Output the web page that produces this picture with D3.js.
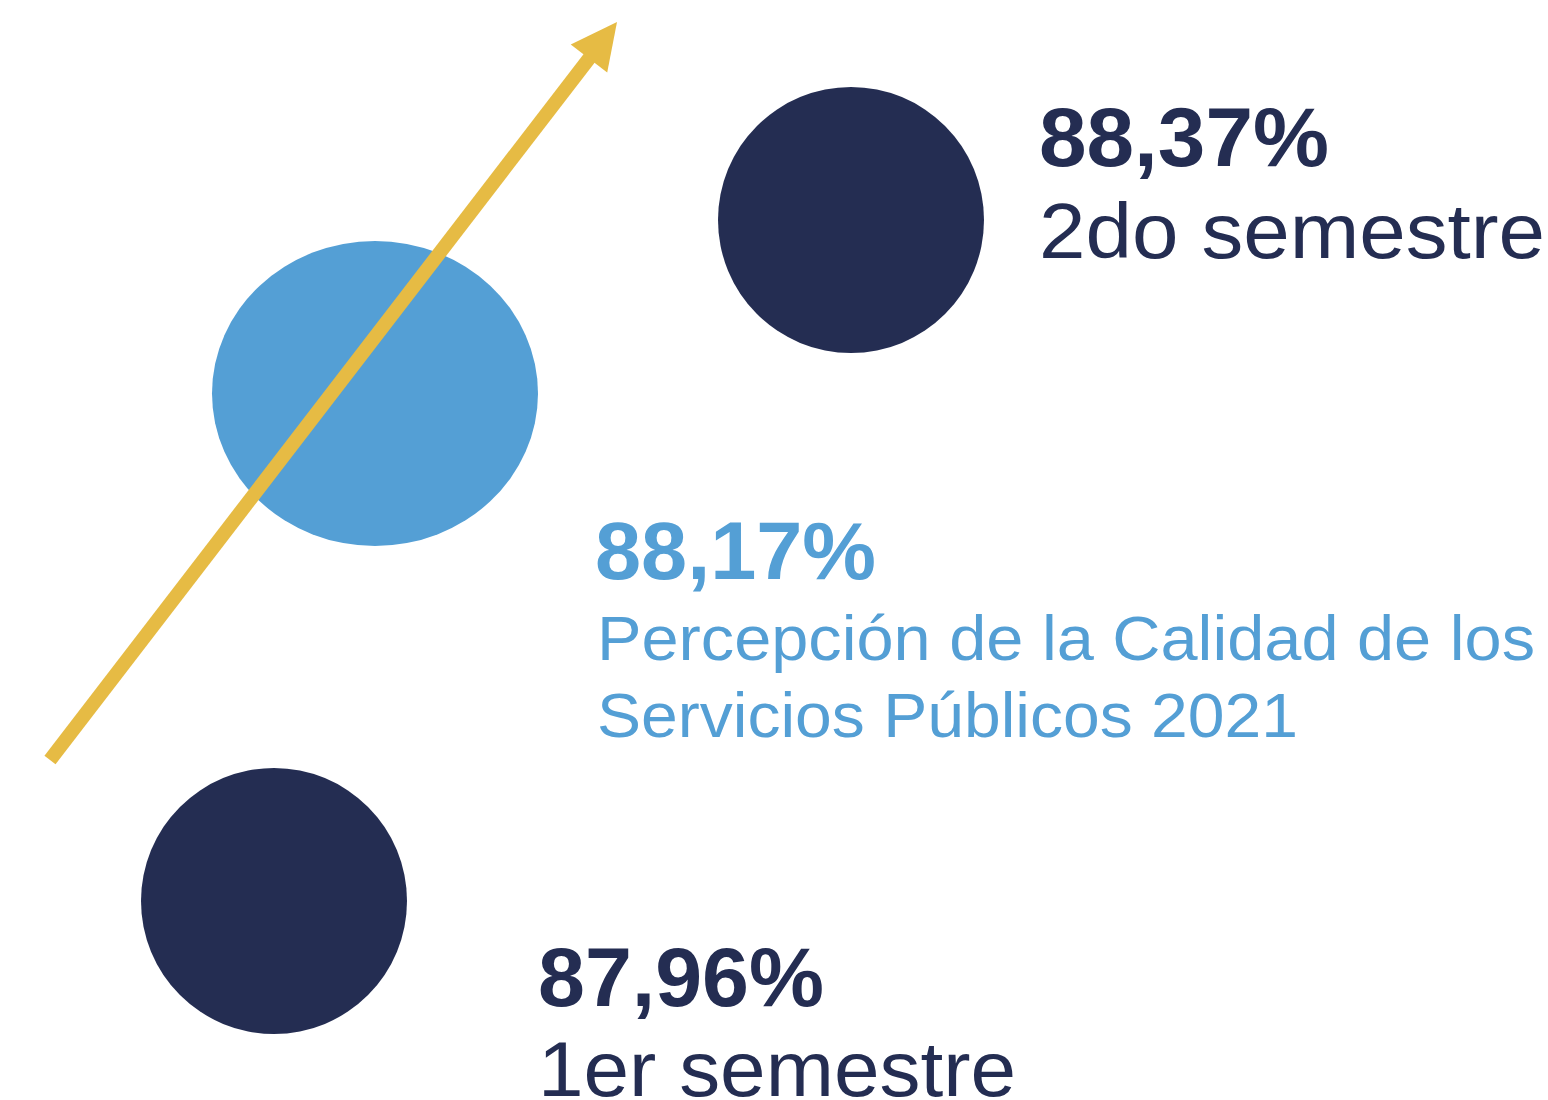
<!DOCTYPE html>
<html>
<head>
<meta charset="utf-8">
<script src="https://cdn.jsdelivr.net/npm/d3@7"></script>
<style>
  html, body { margin: 0; padding: 0; background: #fff; }
  svg { display: block; font-family: "Liberation Sans", Arial, Helvetica, sans-serif; }
</style>
</head>
<body>
<div class="graph"></div>
<script>
// data
var periods = ["1er semestre", "Anual 2021", "2do semestre"];
var values = [87.96, 88.17, 88.37];
var labelLines = [
    ["1er semestre"],
    ["Percepción de la Calidad de los", "Servicios Públicos 2021"],
    ["2do semestre"]
];

var loadChart = function () {
    const WIDTH = 1548;
    const HEIGHT = 1100;

    const NAVY = "#242d52";
    const BLUE = "#549fd5";
    const GOLD = "#e6bb44";

    // layout of each period (bubble centre and text block)
    var cx = d3.scaleOrdinal().domain(periods).range([274, 375, 851]);
    var cy = d3.scaleOrdinal().domain(periods).range([901, 393.5, 220]);
    var rx = d3.scaleOrdinal().domain(periods).range([133, 163, 133]);
    var ry = d3.scaleOrdinal().domain(periods).range([133, 152.5, 133]);
    var color = d3.scaleOrdinal().domain(periods).range([NAVY, BLUE, NAVY]);

    var textX = d3.scaleOrdinal().domain(periods).range([538, 595, 1039]);
    var valueY = d3.scaleOrdinal().domain(periods).range([1006, 579, 166]);
    var valueSize = d3.scaleOrdinal().domain(periods).range([84, 82, 84]);
    var valueLen = d3.scaleOrdinal().domain(periods).range([286, 281, 290]);
    var labelY = d3.scaleOrdinal().domain(periods).range([1096, 660, 258]);
    var labelSize = d3.scaleOrdinal().domain(periods).range([77, 63, 77]);
    var labelStep = 77;
    var labelLen = [[478], [938, 701], [506]];

    var locale = d3.formatLocale({decimal: ",", thousands: ".", grouping: [3], currency: ["", ""]});
    var fmt = locale.format(".2f");

    var svg = d3.select(".graph").append("svg")
        .attr("width", WIDTH)
        .attr("height", HEIGHT);

    var items = periods.map(function (p, i) {
        return {period: p, value: values[i], lines: labelLines[i], lens: labelLen[i]};
    });

    svg.selectAll("ellipse.bubble")
        .data(items)
        .enter().append("ellipse")
        .attr("class", "bubble")
        .attr("cx", function (d) { return cx(d.period); })
        .attr("cy", function (d) { return cy(d.period); })
        .attr("rx", function (d) { return rx(d.period); })
        .attr("ry", function (d) { return ry(d.period); })
        .style("fill", function (d) { return color(d.period); });

    // trend arrow
    var start = [50, 760], tip = [617, 22];
    var dx = tip[0] - start[0], dy = tip[1] - start[1];
    var len = Math.sqrt(dx * dx + dy * dy);
    var ux = dx / len, uy = dy / len;
    var headLen = 46, headHalf = 23;
    var base = [tip[0] - ux * headLen, tip[1] - uy * headLen];

    svg.append("line")
        .attr("x1", start[0]).attr("y1", start[1])
        .attr("x2", base[0] + ux * 2).attr("y2", base[1] + uy * 2)
        .style("stroke", GOLD)
        .style("stroke-width", 14);

    svg.append("polygon")
        .attr("points", [
            tip,
            [base[0] - uy * headHalf, base[1] + ux * headHalf],
            [base[0] + uy * headHalf, base[1] - ux * headHalf]
        ].map(function (p) { return p.join(","); }).join(" "))
        .style("fill", GOLD);

    // text blocks
    var blocks = svg.selectAll("g.label")
        .data(items)
        .enter().append("g")
        .attr("class", "label")
        .style("fill", function (d) { return color(d.period); });

    blocks.append("text")
        .attr("x", function (d) { return textX(d.period); })
        .attr("y", function (d) { return valueY(d.period); })
        .attr("font-size", function (d) { return valueSize(d.period); })
        .attr("font-weight", "bold")
        .attr("textLength", function (d) { return valueLen(d.period); })
        .attr("lengthAdjust", "spacingAndGlyphs")
        .text(function (d) { return fmt(d.value) + "%"; });

    blocks.each(function (d) {
        d3.select(this).selectAll("text.line")
            .data(d.lines)
            .enter().append("text")
            .attr("class", "line")
            .attr("x", textX(d.period) + (d.period === "Anual 2021" ? 2 : 0))
            .attr("y", function (t, i) { return labelY(d.period) + i * labelStep; })
            .attr("font-size", labelSize(d.period))
            .attr("textLength", function (t, i) { return d.lens[i]; })
            .attr("lengthAdjust", "spacingAndGlyphs")
            .text(function (t) { return t; });
    });
};

window.onload = loadChart();
</script>
</body>
</html>
